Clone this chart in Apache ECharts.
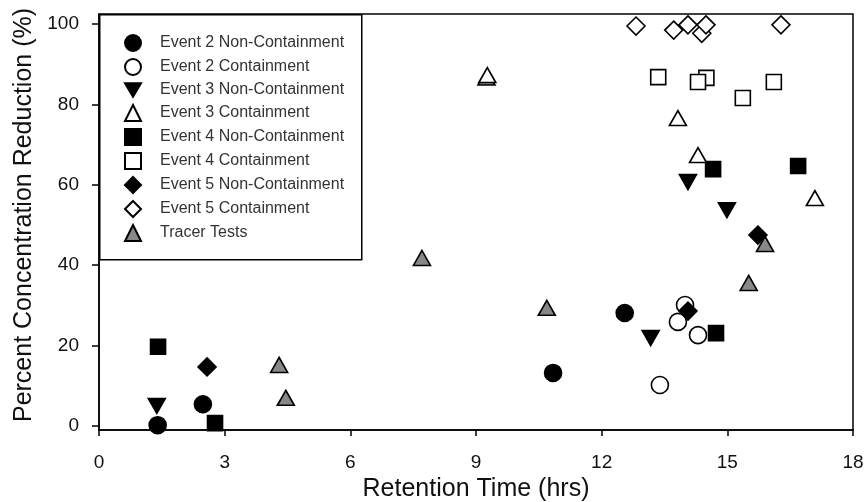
<!DOCTYPE html>
<html>
<head>
<meta charset="utf-8">
<script src="https://cdn.jsdelivr.net/npm/echarts@6/dist/echarts.min.js"></script>
<style>
  html, body { margin: 0; padding: 0; background: #fff; }
  #chart { width: 867px; height: 502px; }
</style>
</head>
<body>
<div id="chart"></div>
<script>
// Retention time (hrs) vs. percent concentration reduction (%), one [x, y] pair per sample
const event2NonContainment = [[1.40, 0.2], [2.48, 5.4], [10.84, 13.2], [12.55, 28.1]];
const event2Containment    = [[13.39, 10.2], [13.99, 30.1], [13.82, 25.9], [14.30, 22.6]];
const event3NonContainment = [[1.38, 5.0], [13.17, 21.9], [14.06, 60.7], [14.99, 53.7]];
const event3Containment    = [[9.27, 87.3], [13.82, 76.6], [14.30, 67.4], [17.09, 56.7]];
const event4NonContainment = [[1.41, 19.7], [2.77, 0.7], [14.73, 23.1], [14.66, 63.9], [16.69, 64.7]];
const event4Containment    = [[13.35, 86.8], [14.50, 86.6], [14.30, 85.6], [15.37, 81.6], [16.11, 85.6]];
const event5NonContainment = [[2.58, 14.7], [14.06, 28.6], [15.73, 47.5]];
const event5Containment    = [[12.82, 99.5], [13.72, 98.5], [14.06, 99.8], [14.39, 97.7], [14.49, 99.8], [16.28, 99.8]];
const tracerTests          = [[4.30, 15.2], [4.46, 7.0], [7.71, 41.8], [9.25, 86.7], [10.69, 29.4], [15.51, 35.6], [15.90, 45.3]];

const xTicks = [0, 3, 6, 9, 12, 15, 18];
const yTicks = [0, 20, 40, 60, 80, 100];

const seriesNames = [
  'Event 2 Non-Containment', 'Event 2 Containment',
  'Event 3 Non-Containment', 'Event 3 Containment',
  'Event 4 Non-Containment', 'Event 4 Containment',
  'Event 5 Non-Containment', 'Event 5 Containment',
  'Tracer Tests'
];

const DOWN_TRIANGLE = 'path://M0,0 L20,0 L10,17 Z';

function scatter(name, data, symbol, size, fill, z) {
  return {
    name: name,
    type: 'scatter',
    data: data,
    symbol: symbol,
    symbolSize: size,
    z: z,
    itemStyle: { color: fill, borderColor: '#000', borderWidth: 1.6, opacity: 1 },
    emphasis: { disabled: true }
  };
}

const chart = echarts.init(document.getElementById('chart'), null, { renderer: 'canvas' });

chart.setOption({
  animation: false,
  backgroundColor: '#fff',
  textStyle: { fontFamily: 'Liberation Sans, Arial, sans-serif' },
  grid: {
    left: 99, right: 14, top: 14, bottom: 72,
    outerBoundsMode: 'none',
    containLabel: false,
    show: true, borderColor: '#000', borderWidth: 1.5, backgroundColor: 'transparent'
  },
  xAxis: {
    type: 'value',
    min: xTicks[0], max: xTicks[xTicks.length - 1], interval: 3,
    name: 'Retention Time (hrs)',
    nameLocation: 'middle',
    nameGap: 47,
    nameTextStyle: { fontSize: 25, color: '#111' },
    axisLine: { show: true, onZero: false, lineStyle: { color: '#000', width: 1.5 } },
    axisTick: { show: true, inside: false, length: 6, lineStyle: { color: '#000', width: 1.5 } },
    axisLabel: { fontSize: 19, color: '#111', margin: 23 },
    splitLine: { show: false }
  },
  yAxis: {
    type: 'value',
    min: -1, max: 102.5,
    name: 'Percent Concentration Reduction (%)',
    nameLocation: 'middle',
    nameGap: 60,
    nameTextStyle: { fontSize: 25, color: '#111', padding: [0, 0, 0, 14] },
    axisLine: { show: true, onZero: false, lineStyle: { color: '#000', width: 1.5 } },
    axisTick: { show: true, inside: false, length: 7, lineStyle: { color: '#000', width: 1.5 }, customValues: yTicks },
    axisLabel: { fontSize: 19, color: '#111', margin: 20, customValues: yTicks },
    splitLine: { show: false }
  },
  graphic: [{
    type: 'rect',
    left: 99, top: 14,
    shape: { width: 262, height: 245 },
    style: { fill: '#fff', stroke: '#000', lineWidth: 1.5 },
    z: 50
  }],
  legend: {
    data: seriesNames,
    orient: 'vertical',
    left: 124, top: 34,
    padding: 0,
    itemWidth: 16, itemHeight: 16,
    itemGap: 6,
    z: 60,
    selectedMode: false,
    textStyle: { fontSize: 16, color: '#333', padding: [0, 0, 0, 14] }
  },
  series: [
    scatter(seriesNames[0], event2NonContainment, 'circle', 17, '#000', 2),
    scatter(seriesNames[1], event2Containment, 'circle', 17, '#fff', 2),
    scatter(seriesNames[2], event3NonContainment, DOWN_TRIANGLE, [17, 15], '#000', 2),
    scatter(seriesNames[3], event3Containment, 'triangle', [17, 15], '#fff', 4),
    scatter(seriesNames[4], event4NonContainment, 'rect', 15, '#000', 2),
    scatter(seriesNames[5], event4Containment, 'rect', 15, '#fff', 2),
    scatter(seriesNames[6], event5NonContainment, 'diamond', 18, '#000', 2),
    scatter(seriesNames[7], event5Containment, 'diamond', 18, '#fff', 2),
    scatter(seriesNames[8], tracerTests, 'triangle', [17, 15], '#888', 3)
  ]
});
</script>
</body>
</html>
